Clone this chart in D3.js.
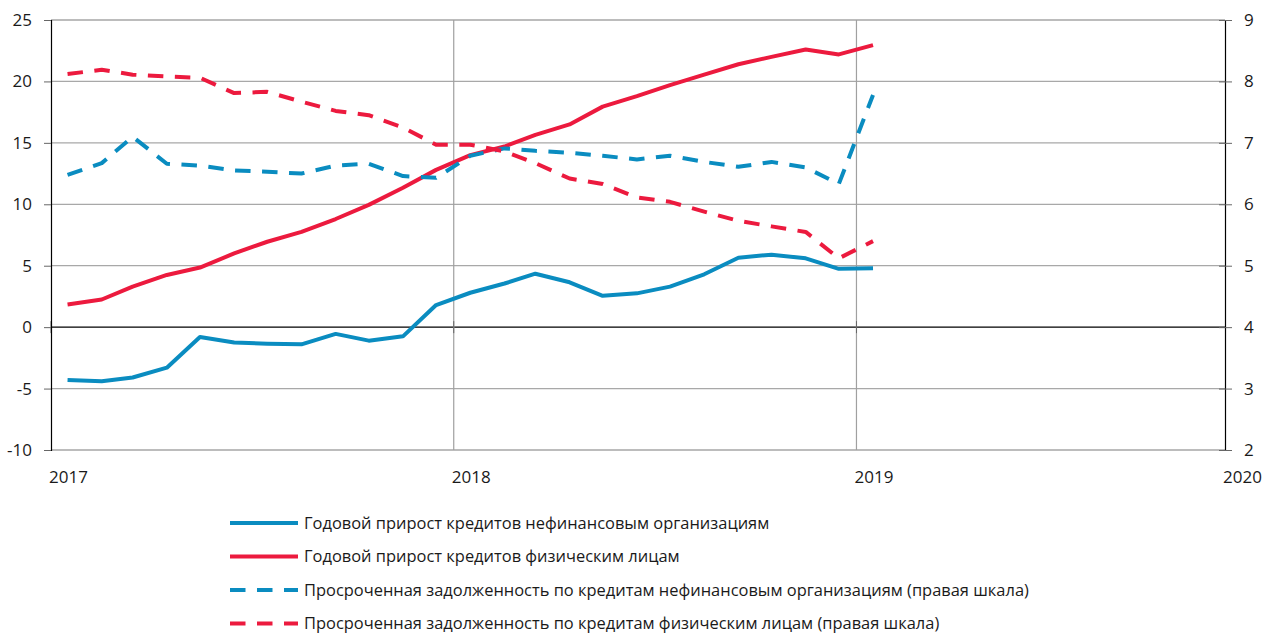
<!DOCTYPE html>
<html>
<head>
<meta charset="utf-8">
<script src="https://cdn.jsdelivr.net/npm/d3@7/dist/d3.min.js"></script>
<style>
  body { margin: 0; background: #fff; }
  svg { display: block; font-family: "Open Sans", "Noto Sans", sans-serif; }
  .tick-label { font-size: 17px; fill: #1a1a1a; }
  .legend-label { font-size: 16.45px; fill: #1a1a1a; }
</style>
</head>
<body>
<div id="chart"></div>
<script>
'use strict';

// months of observations (mid-month points)
const months = [
  "2017-01", "2017-02", "2017-03", "2017-04", "2017-05", "2017-06",
  "2017-07", "2017-08", "2017-09", "2017-10", "2017-11", "2017-12",
  "2018-01", "2018-02", "2018-03", "2018-04", "2018-05", "2018-06",
  "2018-07", "2018-08", "2018-09", "2018-10", "2018-11", "2018-12",
  "2019-01"
];

// left scale, %
const corpGrowth = [
  -4.3, -4.4, -4.1, -3.3, -0.8, -1.25, -1.35, -1.4, -0.55, -1.1, -0.75, 1.8,
  2.8, 3.55, 4.35, 3.65, 2.55, 2.75, 3.3, 4.3, 5.65, 5.9, 5.6, 4.75, 4.8
];
const retailGrowth = [
  1.85, 2.25, 3.3, 4.25, 4.85, 6.0, 6.95, 7.75, 8.8, 9.95, 11.35, 12.8,
  14.0, 14.7, 15.65, 16.5, 17.95, 18.8, 19.7, 20.55, 21.4, 22.0, 22.6, 22.2, 22.95
];
// right scale, %
const corpOverdue = [
  6.48, 6.67, 7.1, 6.66, 6.63, 6.55, 6.53, 6.5, 6.63, 6.66, 6.46, 6.43,
  6.79, 6.91, 6.87, 6.84, 6.79, 6.73, 6.79, 6.69, 6.61, 6.69, 6.6, 6.33, 7.78
];
const retailOverdue = [
  8.12, 8.19, 8.11, 8.08, 8.06, 7.81, 7.83, 7.67, 7.52, 7.45, 7.25, 6.97,
  6.97, 6.86, 6.67, 6.42, 6.33, 6.11, 6.04, 5.88, 5.73, 5.64, 5.55, 5.12, 5.4
];

const leftTicks = [-10, -5, 0, 5, 10, 15, 20, 25];
const rightTicks = [2, 3, 4, 5, 6, 7, 8, 9];
const yearTicks = ["2017", "2018", "2019", "2020"];

const legendItems = [
  "Годовой прирост кредитов нефинансовым организациям",
  "Годовой прирост кредитов физическим лицам",
  "Просроченная задолженность по кредитам нефинансовым организациям (правая шкала)",
  "Просроченная задолженность по кредитам физическим лицам (правая шкала)"
];

const blue = "#0a8cc0",
      red = "#ec1a3e";

const width = 1265,
      height = 637,
      mLeft = 51,
      mRight = 1225,
      mTop = 20,
      mBottom = 450;

const svg = d3.select("#chart").append("svg")
  .attr("width", width)
  .attr("height", height);

const parseMonth = d3.timeParse("%Y-%m");
const midMonth = (m) => d3.timeDay.offset(parseMonth(m), 15);

const x = d3.scaleTime()
  .domain([new Date(2017, 0, 1), new Date(2019, 11, 1)])
  .range([mLeft, mRight]);
const yL = d3.scaleLinear([-10, 25], [mBottom, mTop]);
const yR = d3.scaleLinear([2, 9], [mBottom, mTop]);

// horizontal grid
const grid = svg.append("g");
grid.selectAll("line.h")
  .data(leftTicks)
  .join("line")
  .attr("x1", mLeft).attr("x2", mRight)
  .attr("y1", d => yL(d)).attr("y2", d => yL(d))
  .attr("stroke", d => d === 0 ? "#000" : (d === 25 || d === -10 ? "#7a7a7a" : "#a8a8a8"))
  .attr("stroke-width", 1.2);

// vertical grid at years inside the plot
const years = yearTicks.map(y => new Date(+y, 0, 1));
grid.selectAll("line.v")
  .data(years.filter(d => x(d) > mLeft + 1 && x(d) < mRight - 1))
  .join("line")
  .attr("x1", d => x(d)).attr("x2", d => x(d))
  .attr("y1", mTop).attr("y2", mBottom)
  .attr("stroke", "#a0a0a0")
  .attr("stroke-width", 1.2);

// year ticks on the zero line
grid.selectAll("line.xt")
  .data(years.filter(d => x(d) <= mRight))
  .join("line")
  .attr("x1", d => x(d)).attr("x2", d => x(d))
  .attr("y1", yL(0) - 6).attr("y2", yL(0) + 6)
  .attr("stroke", "#666");

// plain hyphen for negatives, as in the original
const plain = d => String(d);

// left axis
const axL = svg.append("g")
  .attr("transform", `translate(${mLeft},0)`)
  .call(d3.axisLeft(yL).tickValues(leftTicks).tickFormat(plain).tickSize(7).tickPadding(12));
axL.select(".domain").attr("stroke", "#000").attr("stroke-width", 1.2);
axL.selectAll(".tick line").attr("stroke", "#666");
axL.selectAll(".tick text").attr("class", "tick-label");
axL.attr("font-family", null).attr("font-size", null);

// right axis
const axR = svg.append("g")
  .attr("transform", `translate(${mRight},0)`)
  .call(d3.axisRight(yR).tickValues(rightTicks).tickFormat(plain).tickSize(7).tickPadding(12));
axR.select(".domain").attr("stroke", "#000").attr("stroke-width", 1.2);
axR.selectAll(".tick line").attr("x1", -6).attr("stroke", "#666");
axR.selectAll(".tick text").attr("class", "tick-label");
axR.attr("font-family", null).attr("font-size", null);

// x labels
svg.append("g").selectAll("text")
  .data(yearTicks)
  .join("text")
  .attr("class", "tick-label")
  .attr("x", d => Math.min(x(new Date(+d, 0, 1)), mRight) - 2)
  .attr("y", mBottom + 33)
  .text(d => d);

// series
const series = [
  { values: corpGrowth, y: yL, color: blue, dash: null },
  { values: retailGrowth, y: yL, color: red, dash: null },
  { values: corpOverdue, y: yR, color: blue, dash: "15.5,11.5" },
  { values: retailOverdue, y: yR, color: red, dash: "15.5,11.5" }
];

const plot = svg.append("g");
series.forEach(s => {
  const line = d3.line()
    .x((d, i) => x(midMonth(months[i])))
    .y(d => s.y(d));
  plot.append("path")
    .attr("d", line(s.values))
    .attr("fill", "none")
    .attr("stroke", s.color)
    .attr("stroke-width", 4)
    .attr("stroke-linejoin", "round")
    .attr("stroke-dasharray", s.dash);
});

// legend
const legend = svg.append("g");
legendItems.forEach((label, i) => {
  const s = series[i],
        ly = 523 + i * 33.5;
  legend.append("line")
    .attr("x1", 230).attr("x2", 298)
    .attr("y1", ly).attr("y2", ly)
    .attr("stroke", s.color)
    .attr("stroke-width", 4)
    .attr("stroke-dasharray", s.dash);
  legend.append("text")
    .attr("class", "legend-label")
    .attr("x", 304)
    .attr("y", ly)
    .attr("dy", "0.35em")
    .text(label);
});
</script>
</body>
</html>
